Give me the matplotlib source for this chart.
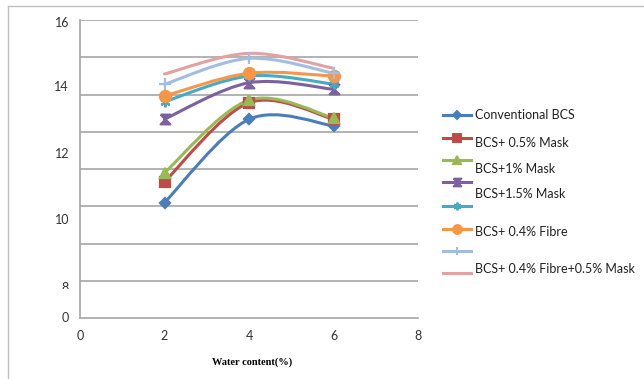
import matplotlib
matplotlib.use("Agg")
import matplotlib.pyplot as plt
from matplotlib.path import Path
from matplotlib.patches import PathPatch
from matplotlib.lines import Line2D
from matplotlib.transforms import Bbox, TransformedBbox

# data (axis units 0..16)
water = [2, 4, 6]
conventional = [6.2, 10.67, 10.32]
mask_05 = [7.32, 11.56, 10.68]
mask_1 = [7.8, 11.7, 10.74]
mask_15 = [10.68, 12.63, 12.28]
series_5 = [11.61, 12.99, 12.56]
fibre_04 = [11.92, 13.14, 12.99]
series_7 = [12.55, 13.94, 13.14]
fibre_mask = [13.1, 14.21, 13.41]

names = ["Conventional BCS", "BCS+ 0.5% Mask", "BCS+1% Mask", "BCS+1.5% Mask",
         "", "BCS+ 0.4% Fibre", "", "BCS+ 0.4% Fibre+0.5% Mask"]
all_series = [conventional, mask_05, mask_1, mask_15, series_5, fibre_04, series_7, fibre_mask]
colors = ["#4A7EBB", "#BE4B48", "#98B954", "#7D60A0", "#46AAC5", "#F79646", "#A3BDE2", "#E3A19F"]
hourglass = [(-1, 1), (1, 1), (-1, -1), (1, -1), (-1, 1)]
markers = ["D", "s", "^", hourglass, (6, 2, 0), "o", "+", None]
msizes = [5, 7.5, 7, 7, 7, 8, 8, 0]

# y tick labels as the picture shows them (misplaced in original export)
ylabels = ["16", "14", "12", "10", "8", "0"]
ylabel_pos = [15.85, 12.4, 8.81, 5.26, 1.62, 0.0]
xticks = [0, 2, 4, 6, 8]

plt.rcParams['font.family'] = ['Lato', 'DejaVu Sans']

fig = plt.figure(figsize=(6.44, 3.79), dpi=100)
W, H = 644, 379
ax = fig.add_axes([80 / W, (H - 318) / H, 338 / W, 298 / H])
ax.set_xlim(0, 8)
ax.set_ylim(0, 16)

for s in ["top", "right"]:
    ax.spines[s].set_visible(False)
for s in ["left", "bottom"]:
    ax.spines[s].set_color("#A6A6A6")
    ax.spines[s].set_linewidth(1.2)

for g in range(2, 17, 2):
    ax.axhline(g, color="#A6A6A6", lw=1.2, zorder=0)

ax.set_xticks(xticks)
ax.set_xticklabels([str(x) for x in xticks], fontsize=9, color="#333333")
ax.set_yticks([])
ax.tick_params(axis="x", length=0, pad=9)

for lab, pos in zip(ylabels, ylabel_pos):
    t = ax.text(-11 / 42.25, pos, lab, ha="right", va="center", fontsize=9,
                color="#333333", clip_on=False)
    if lab == "8":
        t.set_clip_on(True)
        t.set_clip_box(TransformedBbox(Bbox.from_extents(0, (H - 289) / H, 1, 1), fig.transFigure))


def smooth_path(xs, ys):
    pts = list(zip(xs, ys))
    n = len(pts)
    verts = [pts[0]]
    codes = [Path.MOVETO]
    for i in range(n - 1):
        p0 = pts[i - 1] if i > 0 else pts[i]
        p1 = pts[i]
        p2 = pts[i + 1]
        p3 = pts[i + 2] if i + 2 < n else pts[i + 1]
        c1 = (p1[0] + (p2[0] - p0[0]) / 6, p1[1] + (p2[1] - p0[1]) / 6)
        c2 = (p2[0] - (p3[0] - p1[0]) / 6, p2[1] - (p3[1] - p1[1]) / 6)
        verts += [c1, c2, p2]
        codes += [Path.CURVE4] * 3
    return Path(verts, codes)


for ys, c, m, ms in zip(all_series, colors, markers, msizes):
    ax.add_patch(PathPatch(smooth_path(water, ys), facecolor="none", edgecolor=c,
                           lw=2.2, capstyle="round", joinstyle="round"))
    if m is not None:
        ax.plot(water, ys, linestyle="none", marker=m, ms=ms, color=c,
                mec=c, mew=1.6)

ax.set_xlabel("Water content(%)", fontsize=7.5, fontweight="bold",
              family="Liberation Serif", labelpad=10)
ax.xaxis.set_label_coords(0.51, -(357 - 318) / 298)

# legend drawn by hand, matching the offsets in the picture
line_y = [115, 137.7, 160, 181.7, 206, 229.3, 250.7, 272.7]
text_y = [115, 142.7, 169, 194.3, None, 231.7, None, 269.3]
for name, c, m, ms, ly, ty in zip(names, colors, markers, msizes, line_y, text_y):
    fy = (H - ly) / H
    fig.add_artist(Line2D([443 / W, 471 / W], [fy, fy], color=c, lw=2.2,
                          transform=fig.transFigure))
    if m is not None:
        fig.add_artist(Line2D([457 / W], [fy], marker=m, ms=ms * 0.8, color=c,
                              mec=c, mew=1.4, linestyle="none", transform=fig.transFigure))
    if ty is not None and name:
        fig.text(475 / W, (H - ty) / H, name, fontsize=9, color="#222222",
                 ha="left", va="center")

# outer chart border (top and left visible)
fig.add_artist(Line2D([8 / W, 1], [(H - 6) / H, (H - 6) / H], color="#BFBFBF", lw=1,
                      transform=fig.transFigure))
fig.add_artist(Line2D([8 / W, 8 / W], [0, (H - 6) / H], color="#BFBFBF", lw=1,
                      transform=fig.transFigure))

fig.savefig("out.png", dpi=100, facecolor="white")
